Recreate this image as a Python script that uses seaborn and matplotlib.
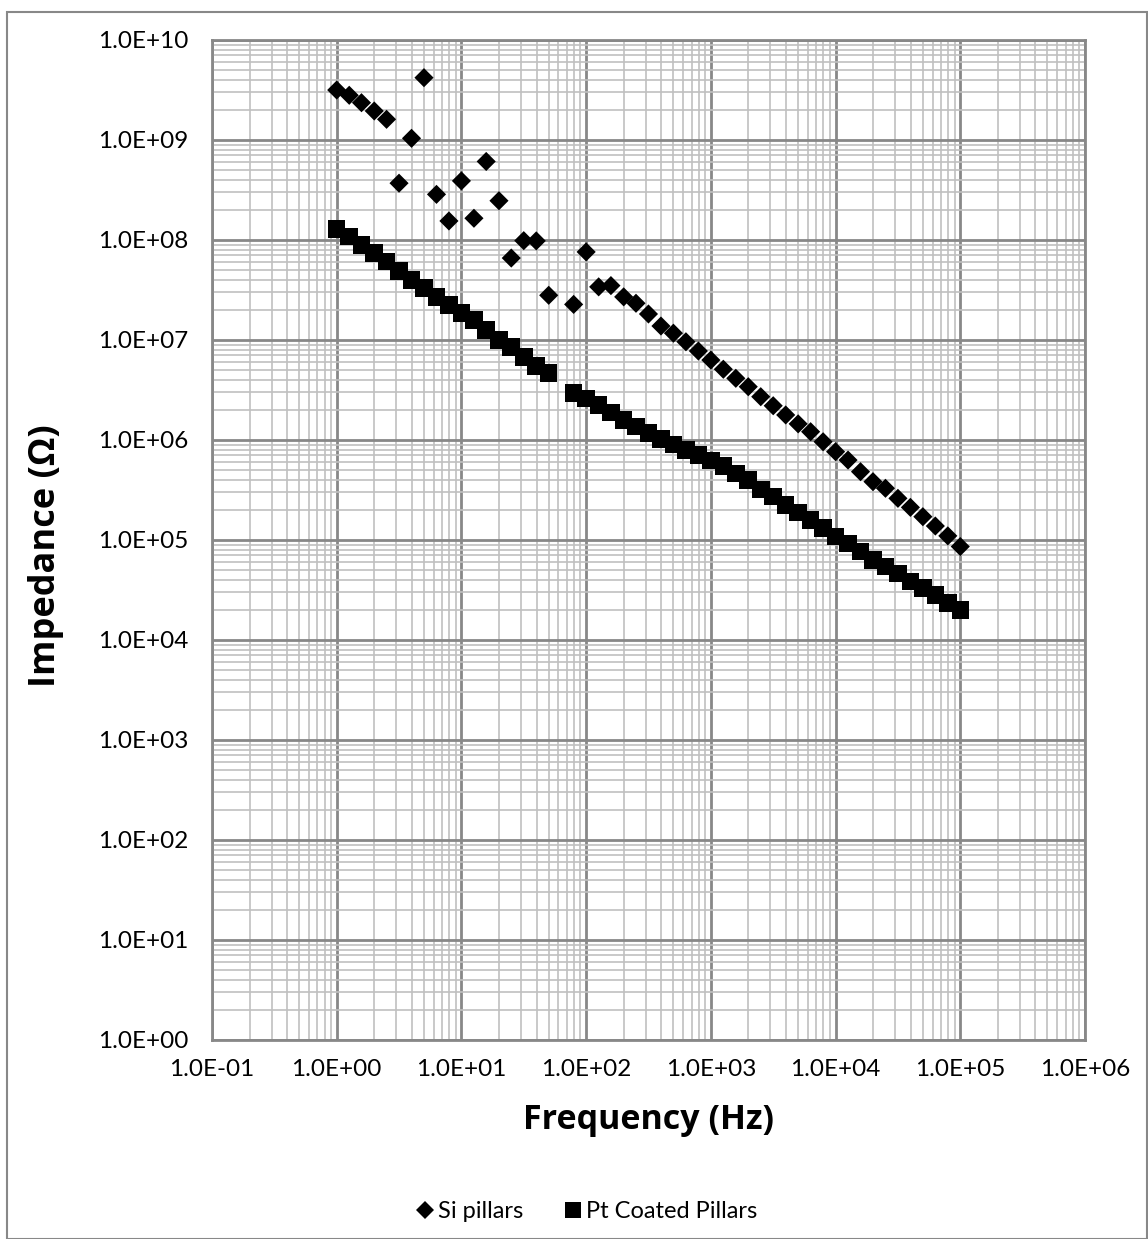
import numpy as np
import pandas as pd
import matplotlib
matplotlib.use("Agg")
import matplotlib.pyplot as plt
import matplotlib.ticker as mticker
from matplotlib.lines import Line2D
from matplotlib.patches import Rectangle
import seaborn as sns

# ---------------- data ----------------
freq_si = [1, 1.26, 1.58, 2.0, 2.51, 3.16, 3.98, 5.01, 6.31, 7.94,
           10, 12.6, 15.8, 20, 25.1, 31.6, 39.8, 50.1, 79.4,
           100, 126, 158, 200, 251, 316, 398, 501, 631, 794,
           1000, 1259, 1585, 1995, 2512, 3162, 3981, 5012, 6310, 7943,
           10000, 12589, 15849, 19953, 25119, 31623, 39811, 50119, 63096, 79433,
           100000]
z_si = [3.16e9, 2.8e9, 2.36e9, 1.95e9, 1.61e9, 3.7e8, 1.04e9, 4.2e9, 2.86e8, 1.55e8,
        3.9e8, 1.65e8, 6.1e8, 2.47e8, 6.6e7, 9.85e7, 9.8e7, 2.8e7, 2.27e7,
        7.6e7, 3.4e7, 3.5e7, 2.7e7, 2.33e7, 1.82e7, 1.38e7, 1.17e7, 9.6e6, 7.76e6,
        6.3e6, 5.1e6, 4.14e6, 3.41e6, 2.71e6, 2.2e6, 1.78e6, 1.45e6, 1.21e6, 9.6e5,
        7.64e5, 6.3e5, 4.82e5, 3.83e5, 3.29e5, 2.61e5, 2.12e5, 1.71e5, 1.38e5, 1.1e5,
        8.6e4]

freq_pt = [1, 1.26, 1.58, 2.0, 2.51, 3.16, 3.98, 5.01, 6.31, 7.94,
           10, 12.6, 15.8, 20, 25.1, 31.6, 39.8, 50.1, 79.4,
           100, 126, 158, 200, 251, 316, 398, 501, 631, 794,
           1000, 1259, 1585, 1995, 2512, 3162, 3981, 5012, 6310, 7943,
           10000, 12589, 15849, 19953, 25119, 31623, 39811, 50119, 63096, 79433,
           100000]
z_pt = [1.29e8, 1.08e8, 8.9e7, 7.4e7, 6.1e7, 4.9e7, 4.0e7, 3.3e7, 2.7e7, 2.24e7,
        1.85e7, 1.58e7, 1.26e7, 1.0e7, 8.5e6, 6.8e6, 5.5e6, 4.7e6, 2.97e6,
        2.61e6, 2.24e6, 1.88e6, 1.58e6, 1.36e6, 1.17e6, 1.02e6, 9.06e5, 7.94e5, 7.08e5,
        6.21e5, 5.5e5, 4.64e5, 3.98e5, 3.21e5, 2.71e5, 2.24e5, 1.88e5, 1.58e5, 1.31e5,
        1.08e5, 9.27e4, 7.64e4, 6.31e4, 5.41e4, 4.64e4, 3.83e4, 3.29e4, 2.82e4, 2.33e4,
        2.0e4]

series_names = ["Si pillars", "Pt Coated Pillars"]
x_label = "Frequency (Hz)"
y_label = "Impedance (\u03a9)"

df = pd.concat([
    pd.DataFrame({"Frequency": freq_si, "Impedance": z_si, "series": series_names[0]}),
    pd.DataFrame({"Frequency": freq_pt, "Impedance": z_pt, "series": series_names[1]}),
], ignore_index=True)

# ---------------- style ----------------
sns.set_style("white")
plt.rcParams["font.family"] = ["Lato", "DejaVu Sans"]
plt.rcParams["text.color"] = "black"
plt.rcParams["axes.labelcolor"] = "black"

W, H = 1148, 1239
fig = plt.figure(figsize=(W / 100, H / 100), dpi=100)
L, R, T, B = 212, 1085, 40, 1040
ax = fig.add_axes([L / W, 1 - B / H, (R - L) / W, (B - T) / H])

sns.scatterplot(data=df, x="Frequency", y="Impedance", hue="series", style="series",
                size="series",
                markers={series_names[0]: "D", series_names[1]: "s"},
                palette={series_names[0]: "black", series_names[1]: "black"},
                sizes={series_names[0]: 95, series_names[1]: 160},
                linewidth=0, legend=False, ax=ax, zorder=5)

ax.set_xscale("log")
ax.set_yscale("log")
ax.set_xlim(0.1, 1e6)
ax.set_ylim(1, 1e10)

ax.xaxis.set_major_locator(mticker.LogLocator(base=10, numticks=20))
ax.yaxis.set_major_locator(mticker.LogLocator(base=10, numticks=20))
ax.xaxis.set_minor_locator(mticker.LogLocator(base=10, subs=np.arange(2, 10), numticks=100))
ax.yaxis.set_minor_locator(mticker.LogLocator(base=10, subs=np.arange(2, 10), numticks=100))
fmt = mticker.FuncFormatter(lambda v, p: f"{v:.1E}")
ax.xaxis.set_major_formatter(fmt)
ax.yaxis.set_major_formatter(fmt)
ax.xaxis.set_minor_formatter(mticker.NullFormatter())
ax.yaxis.set_minor_formatter(mticker.NullFormatter())

ax.grid(True, which="minor", color="#c0c0c0", linewidth=1.2, zorder=0)
ax.grid(True, which="major", color="#888888", linewidth=2.0, zorder=1)
ax.set_axisbelow(True)

for s in ax.spines.values():
    s.set_color("#888888")
    s.set_linewidth(2.0)

ax.tick_params(axis="both", which="major", direction="out", length=5, width=1.5,
               color="#888888", labelsize=17.5, labelcolor="black")
ax.tick_params(axis="x", which="major", pad=9)
ax.tick_params(axis="y", which="major", pad=12)
ax.tick_params(axis="both", which="minor", length=0)

title_font = ["Open Sans", "DejaVu Sans"]
ax.set_xlabel(x_label, fontsize=24.5, fontweight="bold", family=title_font, color="black")
ax.set_ylabel(y_label, fontsize=26, fontweight="bold", family=title_font, color="black")
ax.xaxis.set_label_coords(0.5, -(1120 - B) / (B - T), transform=ax.transAxes)
ax.xaxis.label.set_verticalalignment("center")
ax.yaxis.set_label_coords((46 - L) / (R - L), (B - 556) / (B - T), transform=ax.transAxes)
ax.yaxis.label.set_verticalalignment("center")

# legend at the bottom of the figure
handles = [
    Line2D([], [], marker="D", color="black", linestyle="none", markersize=9, markeredgewidth=0),
    Line2D([], [], marker="s", color="black", linestyle="none", markersize=12, markeredgewidth=0),
]
leg = fig.legend(handles, series_names, loc="center", bbox_to_anchor=(0.51, 1 - 1212 / H),
                 ncol=2, frameon=False, fontsize=17, handletextpad=0.05, columnspacing=1.6,
                 handlelength=1.0)
for t in leg.get_texts():
    t.set_color("black")

# outer chart border
fig.patches.append(Rectangle((7 / W, 0.0), (W - 8) / W, 1 - 11 / H - 0.0005,
                             transform=fig.transFigure, fill=False,
                             edgecolor="#888888", linewidth=1.5))

fig.savefig("out.png", dpi=100)
